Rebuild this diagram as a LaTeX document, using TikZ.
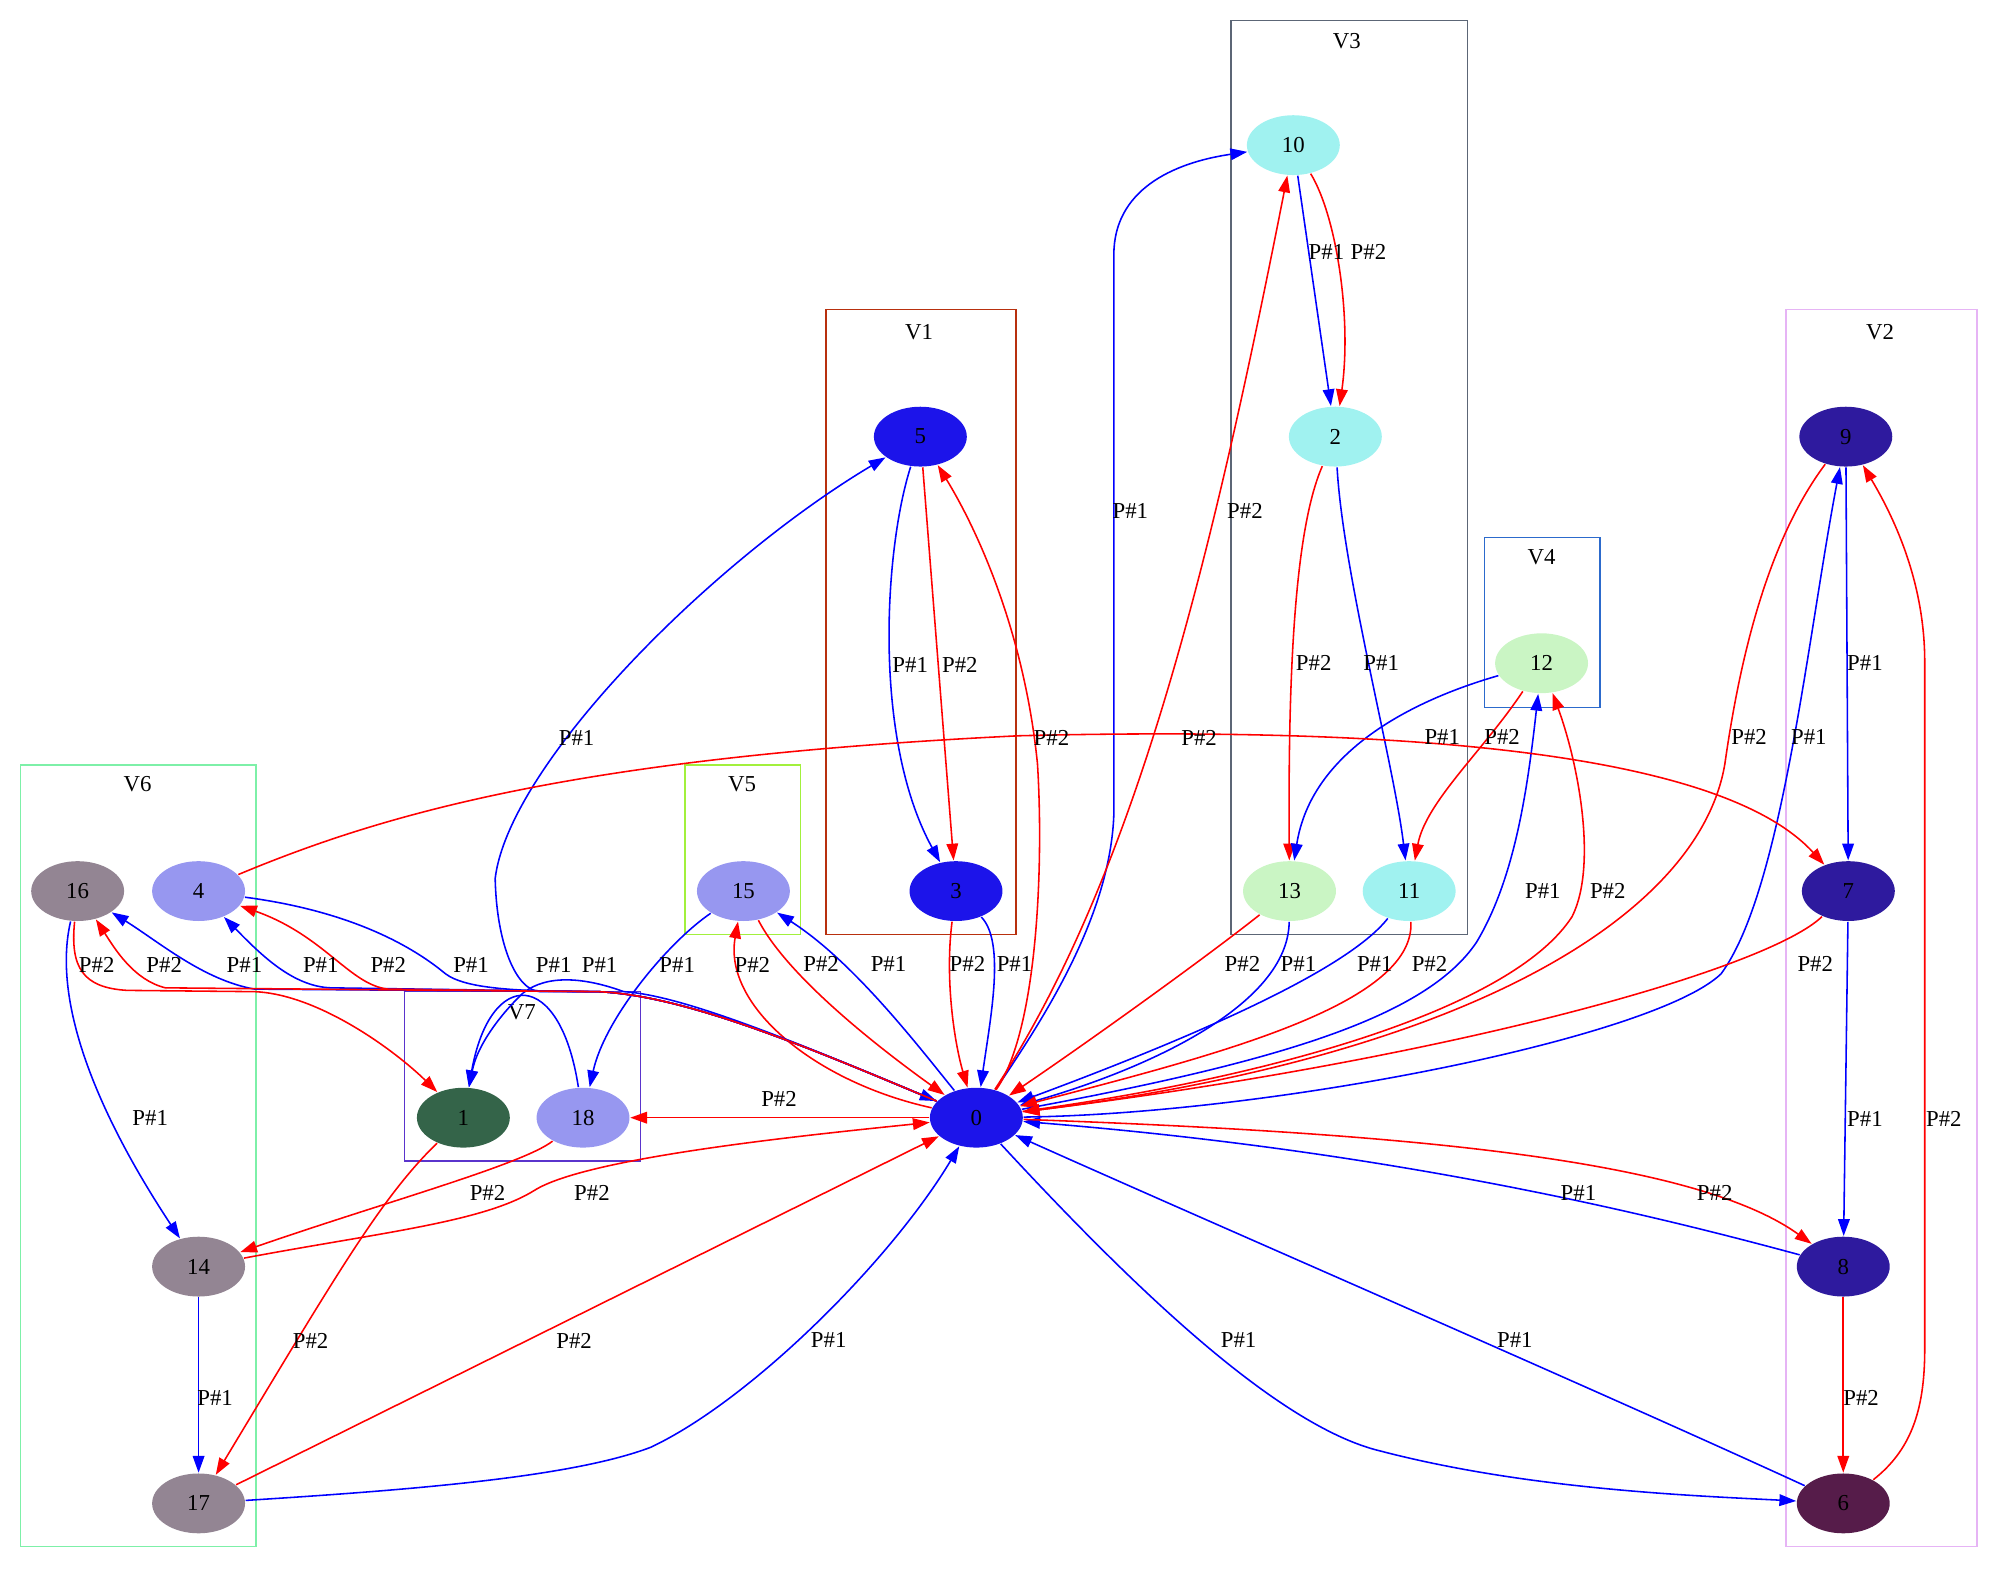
\documentclass[tikz,border=0pt]{standalone}
\usepackage{fontspec}
\setmainfont{Liberation Serif}
\usetikzlibrary{arrows.meta, shapes.geometric}
\definecolor{pone}{HTML}{0000FF}
\definecolor{ptwo}{HTML}{FF0000}
\definecolor{cHub}{HTML}{1C14EA}
\definecolor{cCyan}{HTML}{A0F2F0}
\definecolor{cMint}{HTML}{CAF5C4}
\definecolor{cIndigo}{HTML}{2E1A9E}
\definecolor{cPlum}{HTML}{561C4A}
\definecolor{cGrey}{HTML}{938593}
\definecolor{cLav}{HTML}{9797F0}
\definecolor{cPine}{HTML}{346449}
\definecolor{kVone}{HTML}{B8300E}
\definecolor{kVtwo}{HTML}{E6B4F5}
\definecolor{kVthree}{HTML}{5C6676}
\definecolor{kVfour}{HTML}{2C6ACC}
\definecolor{kVfive}{HTML}{A2F03C}
\definecolor{kVsix}{HTML}{7DF0A8}
\definecolor{kVseven}{HTML}{5A34CC}
\newcommand{\gvfont}{\fontsize{10.2}{12}\selectfont}

\begin{document}
\begin{tikzpicture}[x=0.02cm, y=-0.02cm, line width=0.7pt,
      >={Triangle[length=7.5pt,width=5.2pt]},
      vtx/.style={ellipse, minimum width=1.46cm, minimum height=0.94cm,
                  inner sep=0pt, font=\gvfont},
      lbl/.style={font=\gvfont, inner sep=0pt},
      pa/.style={->, pone},
      pb/.style={->, ptwo},
      clu/.style={line width=0.6pt}]
    \useasboundingbox (0,0) rectangle (1568,1232);

    \draw[clu, kVthree] (967,16) rectangle (1153,734);
    \draw[clu, kVone] (649,243) rectangle (798,734);
    \draw[clu, kVtwo] (1403,243) rectangle (1553,1215);
    \draw[clu, kVfour] (1166,422) rectangle (1257,556);
    \draw[clu, kVfive] (538,601) rectangle (629,734);
    \draw[clu, kVsix] (16,601) rectangle (201,1215);
    \draw[clu, kVseven] (318,779) rectangle (503,912);
    \node[lbl] (tV3) at (1058,32) {V3};
    \node[lbl] (tV1) at (722,261) {V1};
    \node[lbl] (tV2) at (1477,261) {V2};
    \node[lbl] (tV4) at (1211,438) {V4};
    \node[lbl] (tV5) at (583,616) {V5};
    \node[lbl] (tV6) at (108,616) {V6};
    \node[lbl] (tV7) at (410,795) {V7};

    \node[vtx, fill=cHub] (n0) at (767,878) {0};
    \node[vtx, fill=cPine] (n1) at (364,878) {1};
    \node[vtx, fill=cCyan] (n2) at (1049,343) {2};
    \node[vtx, fill=cHub] (n3) at (751,700) {3};
    \node[vtx, fill=cLav] (n4) at (156,700) {4};
    \node[vtx, fill=cHub] (n5) at (723,343) {5};
    \node[vtx, fill=cPlum] (n6) at (1448,1181) {6};
    \node[vtx, fill=cIndigo] (n7) at (1452,700) {7};
    \node[vtx, fill=cIndigo] (n8) at (1448,995) {8};
    \node[vtx, fill=cIndigo] (n9) at (1450,343) {9};
    \node[vtx, fill=cCyan] (n10) at (1016,114) {10};
    \node[vtx, fill=cCyan] (n11) at (1107,700) {11};
    \node[vtx, fill=cMint] (n12) at (1211,521) {12};
    \node[vtx, fill=cMint] (n13) at (1013,700) {13};
    \node[vtx, fill=cGrey] (n14) at (156,995) {14};
    \node[vtx, fill=cLav] (n15) at (584,700) {15};
    \node[vtx, fill=cGrey] (n16) at (61,700) {16};
    \node[vtx, fill=cGrey] (n17) at (156,1181) {17};
    \node[vtx, fill=cLav] (n18) at (458,878) {18};

    \draw[pa] (n0) .. controls (820,800) and (872,720) .. (875,640) -- (875,200)
              .. controls (875,150) and (920,128) .. (n10);
    \draw[pb] (n0) .. controls (890,690) and (950,450) .. (n10);
    \draw[pa] (n10) -- (n2);
    \draw[pb] (n10) .. controls (1050,170) and (1062,250) .. (n2);
    \draw[pb] (n2) .. controls (1015,420) and (1012,550) .. (n13);
    \draw[pa] (n2) .. controls (1055,450) and (1095,600) .. (n11);
    \draw[pa] (n12) .. controls (1110,550) and (1030,590) .. (n13);
    \draw[pb] (n12) .. controls (1165,590) and (1120,630) .. (n11);
    \draw[pb] (n13) .. controls (950,750) and (860,815) .. (n0);
    \draw[pa] (n13) .. controls (1012,790) and (900,840) .. (n0);
    \draw[pa] (n11) .. controls (1060,760) and (950,810) .. (n0);
    \draw[pb] (n11) .. controls (1112,790) and (950,830) .. (n0);
    \draw[pa] (n0) .. controls (1000,835) and (1120,800) .. (1160,740)
              .. controls (1190,690) and (1200,620) .. (n12);
    \draw[pb] (n0) .. controls (1010,845) and (1190,790) .. (1235,720)
              .. controls (1255,680) and (1240,600) .. (n12);

    \draw[pb] (n9) .. controls (1385,430) and (1365,530) .. (1355,600)
              .. controls (1335,720) and (1150,830) .. (n0);
    \draw[pa] (n0) .. controls (1000,875) and (1300,815) .. (1352,765)
              .. controls (1400,700) and (1420,500) .. (n9);
    \draw[pa] (n9) -- (n7);
    \draw[pb] (n7) .. controls (1390,760) and (1150,830) .. (n0);
    \draw[pa] (n7) -- (n8);
    \draw[pa] (n8) .. controls (1300,955) and (1100,905) .. (n0);
    \draw[pb] (n0) .. controls (1100,890) and (1330,910) .. (n8);
    \draw[pb] (n8) -- (n6);
    \draw[pb] (n6) .. controls (1500,1140) and (1512,1110) .. (1512,1060) -- (1512,520)
              .. controls (1512,460) and (1490,410) .. (n9);
    \draw[pa] (n0) .. controls (880,1000) and (1000,1120) .. (1085,1140)
              .. controls (1200,1170) and (1330,1175) .. (n6);
    \draw[pa] (n6) .. controls (1250,1090) and (950,960) .. (n0);

    \draw[pa] (n5) .. controls (695,430) and (685,580) .. (n3);
    \draw[pb] (n5) -- (n3);
    \draw[pb] (n3) .. controls (742,770) and (750,820) .. (n0);
    \draw[pa] (n3) .. controls (790,740) and (778,800) .. (n0);
    \draw[pb] (n0) .. controls (815,810) and (820,680) .. (815,600)
              .. controls (805,500) and (770,420) .. (n5);
    \draw[pa] (n0) .. controls (640,825) and (540,782) .. (470,779) -- (425,779)
              .. controls (405,779) and (390,740) .. (389,690)
              .. controls (400,600) and (560,440) .. (n5);
    \draw[pb] (n4) .. controls (300,640) and (450,595) .. (800,578)
              .. controls (1200,568) and (1370,610) .. (n7);

    \draw[pa] (n0) .. controls (720,820) and (670,755) .. (n15);
    \draw[pb] (n15) .. controls (620,770) and (700,830) .. (n0);
    \draw[pb] (n0) .. controls (640,850) and (568,790) .. (n15);
    \draw[pa] (n15) .. controls (525,740) and (475,800) .. (n18);
    \draw[pb] (n0) -- (n18);
    \draw[pa] (n0) .. controls (640,825) and (540,782) .. (490,779)
              .. controls (460,768) and (430,765) .. (411,780)
              .. controls (395,795) and (375,820) .. (n1);
    \draw[pa] (n18) .. controls (440,760) and (385,760) .. (n1);

    \draw[pa] (n0) .. controls (640,825) and (540,782) .. (470,779) -- (260,776)
              .. controls (230,775) and (205,750) .. (n4);
    \draw[pb] (n0) .. controls (640,825) and (540,782) .. (470,779) -- (305,777)
              .. controls (275,774) and (255,735) .. (n4);
    \draw[pa] (n4) .. controls (270,715) and (320,740) .. (350,765)
              .. controls (365,776) and (400,779) .. (470,779)
              .. controls (540,782) and (640,825) .. (n0);
    \draw[pa] (n0) .. controls (640,825) and (540,782) .. (470,779) -- (200,777)
              .. controls (160,770) and (125,740) .. (n16);
    \draw[pb] (n0) .. controls (640,825) and (540,782) .. (470,779) -- (130,776)
              .. controls (105,770) and (90,745) .. (n16);
    \draw[pb] (n16) .. controls (55,760) and (65,776) .. (100,778) -- (200,779)
              .. controls (250,781) and (310,825) .. (n1);
    \draw[pa] (n16) .. controls (40,790) and (80,880) .. (n14);
    \draw[pb] (n18) .. controls (410,915) and (300,945) .. (n14);
    \draw[pb] (n14) .. controls (300,968) and (380,960) .. (420,935)
              .. controls (460,910) and (620,893) .. (n0);
    \draw[pb] (n1) .. controls (300,940) and (265,1000) .. (n17);
    \draw[pa] (n14) -- (n17);
    \draw[pb] (n17) -- (n0);
    \draw[pa] (n17) .. controls (330,1170) and (450,1160) .. (511,1137)
              .. controls (590,1100) and (700,990) .. (n0);

    \node[lbl] (l10b) at (1042,198) {P\#1};
    \node[lbl] (l10r) at (1075,198) {P\#2};
    \node[lbl] (l0tb) at (888,401) {P\#1};
    \node[lbl] (l0tr) at (978,401) {P\#2};
    \node[lbl] (l5b) at (715,522) {P\#1};
    \node[lbl] (l5r) at (754,522) {P\#2};
    \node[lbl] (l2r) at (1032,521) {P\#2};
    \node[lbl] (l2b) at (1085,521) {P\#1};
    \node[lbl] (l9b) at (1465,521) {P\#1};
    \node[lbl] (l05b) at (453,580) {P\#1};
    \node[lbl] (l05r) at (826,580) {P\#2};
    \node[lbl] (l47r) at (942,580) {P\#2};
    \node[lbl] (l12b) at (1133,579) {P\#1};
    \node[lbl] (l12r) at (1180,579) {P\#2};
    \node[lbl] (l90r) at (1374,579) {P\#2};
    \node[lbl] (l09b) at (1421,579) {P\#1};
    \node[lbl] (l012b) at (1212,700) {P\#1};
    \node[lbl] (l012r) at (1263,700) {P\#2};
    \node[lbl] (l161r) at (76,758) {P\#2};
    \node[lbl] (l016r) at (129,758) {P\#2};
    \node[lbl] (l016b) at (192,758) {P\#1};
    \node[lbl] (l04b) at (252,758) {P\#1};
    \node[lbl] (l04r) at (305,758) {P\#2};
    \node[lbl] (l40b) at (370,758) {P\#1};
    \node[lbl] (l01b) at (435,758) {P\#1};
    \node[lbl] (l181b) at (471,758) {P\#1};
    \node[lbl] (l1518b) at (532,758) {P\#1};
    \node[lbl] (l015r) at (591,758) {P\#2};
    \node[lbl] (l150r) at (645,757) {P\#2};
    \node[lbl] (l015b) at (698,757) {P\#1};
    \node[lbl] (l30r) at (760,757) {P\#2};
    \node[lbl] (l30b) at (797,757) {P\#1};
    \node[lbl] (l130r) at (976,757) {P\#2};
    \node[lbl] (l130b) at (1020,757) {P\#1};
    \node[lbl] (l110b) at (1080,757) {P\#1};
    \node[lbl] (l110r) at (1123,757) {P\#2};
    \node[lbl] (l70r) at (1426,757) {P\#2};
    \node[lbl] (l018r) at (612,863) {P\#2};
    \node[lbl] (l1614b) at (118,878) {P\#1};
    \node[lbl] (l78b) at (1465,879) {P\#1};
    \node[lbl] (l69r) at (1527,879) {P\#2};
    \node[lbl] (l1814r) at (383,937) {P\#2};
    \node[lbl] (l140r) at (465,937) {P\#2};
    \node[lbl] (l80b) at (1240,937) {P\#1};
    \node[lbl] (l08r) at (1347,937) {P\#2};
    \node[lbl] (l117r) at (244,1053) {P\#2};
    \node[lbl] (l170r) at (451,1053) {P\#2};
    \node[lbl] (l170b) at (651,1053) {P\#1};
    \node[lbl] (l06b) at (973,1053) {P\#1};
    \node[lbl] (l60b) at (1190,1053) {P\#1};
    \node[lbl] (l1417b) at (169,1098) {P\#1};
    \node[lbl] (l86r) at (1462,1098) {P\#2};
  \end{tikzpicture}
\end{document}
